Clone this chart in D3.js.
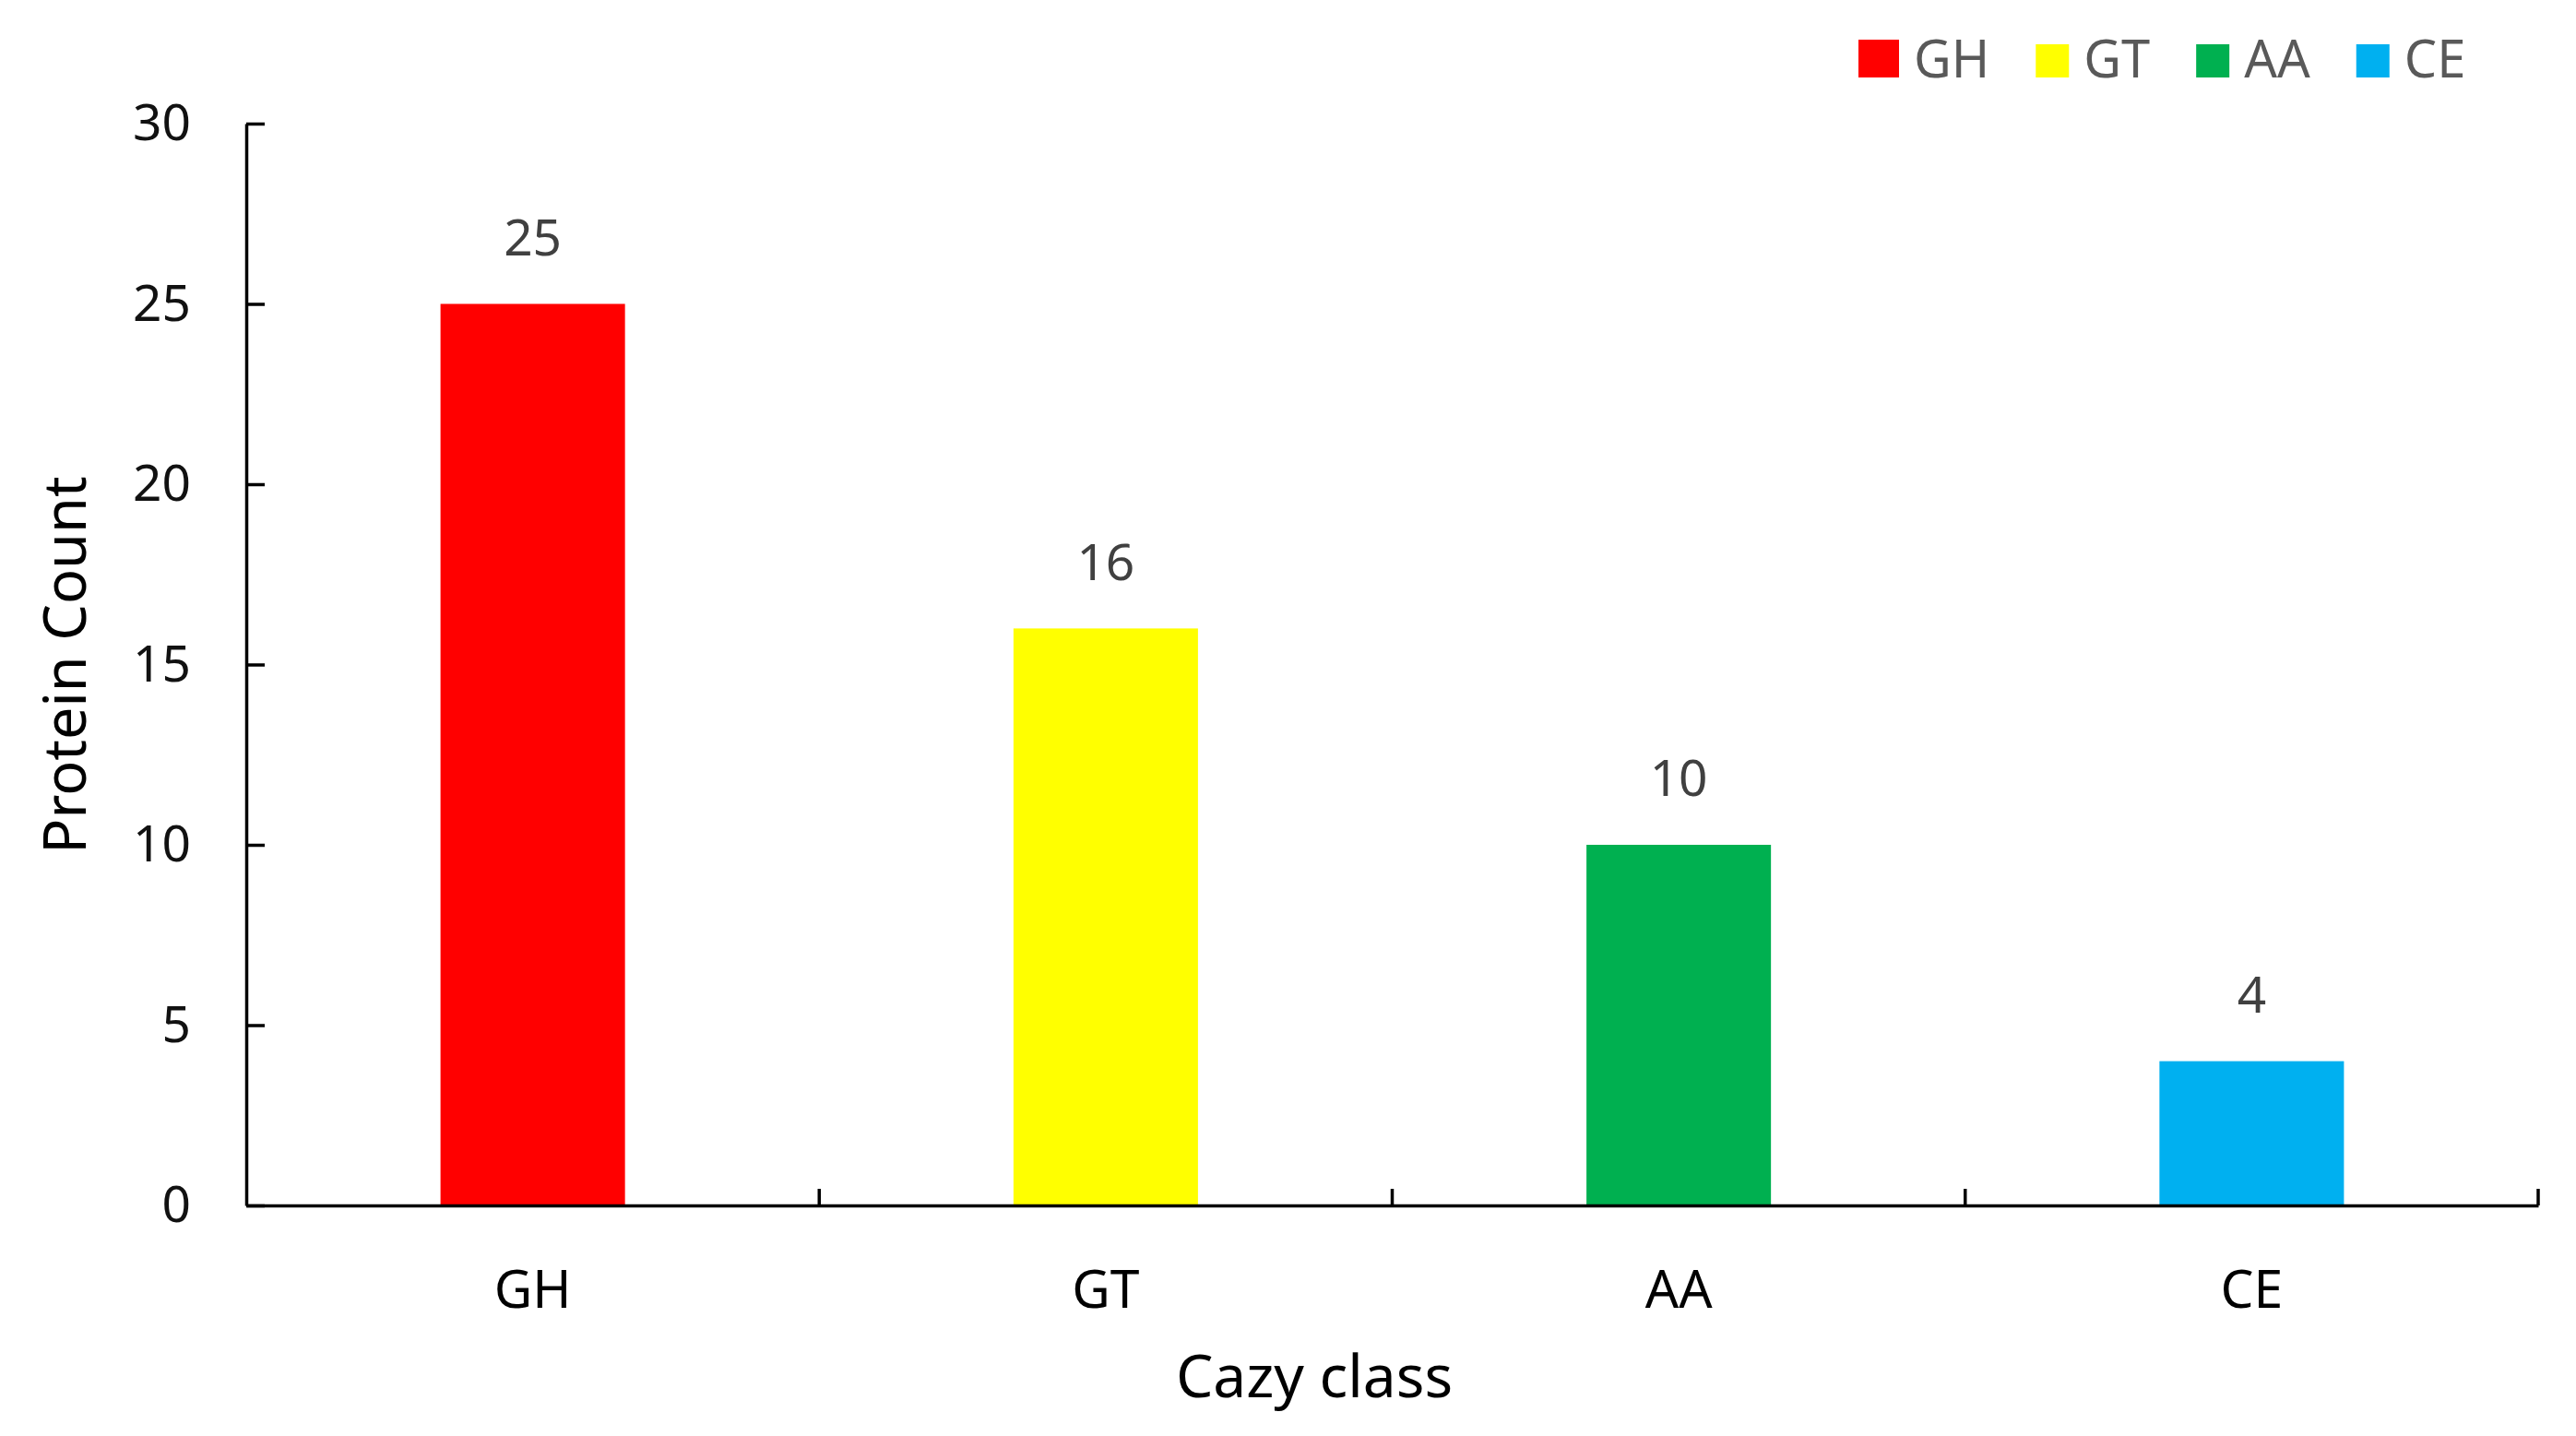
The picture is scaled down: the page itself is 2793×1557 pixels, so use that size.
<!DOCTYPE html>
<html>
<head>
<meta charset="utf-8">
<script src="https://cdn.jsdelivr.net/npm/d3@7"></script>
<style>
  html, body { margin: 0; padding: 0; background: #fff; }
  svg text { font-family: "Noto Sans", "Open Sans", sans-serif; }
</style>
</head>
<body>
<div id="chart"></div>
<script>
var categories = ['GH', 'GT', 'AA', 'CE']
var counts = [25, 16, 10, 4]
var colors = ['#FF0000', '#FFFF00', '#00B050', '#00B0F0']
var yTicks = [0, 5, 10, 15, 20, 25, 30]

var width = 2793, height = 1557
var margin = {left: 267, right: 41, top: 134, bottom: 250}
var iw = width - margin.left - margin.right
var ih = height - margin.top - margin.bottom

var svg = d3.select('#chart').append('svg')
  .attr('width', width)
  .attr('height', height)

var g = svg.append('g')
  .attr('transform', `translate(${margin.left},${margin.top})`)

var x = d3.scaleBand()
  .domain(categories)
  .range([0, iw])
  .paddingInner(0.678)
  .paddingOuter(0.339)

var y = d3.scaleLinear()
  .domain([0, 30])
  .range([ih, 0])

var data = categories.map((c, i) => ({cat: c, value: counts[i], color: colors[i]}))

// bars
g.selectAll('rect.bar').data(data).join('rect')
  .attr('class', 'bar')
  .attr('x', d => x(d.cat))
  .attr('width', x.bandwidth())
  .attr('y', d => y(d.value))
  .attr('height', d => y(0) - y(d.value))
  .attr('fill', d => d.color)

// value labels
g.selectAll('text.val').data(data).join('text')
  .attr('class', 'val')
  .attr('x', d => x(d.cat) + x.bandwidth() / 2)
  .attr('y', d => y(d.value) - 72)
  .attr('dy', '.35em')
  .attr('text-anchor', 'middle')
  .attr('font-size', 55)
  .attr('fill', '#404040')
  .text(d => d.value)

// y axis
var yAxis = g.append('g')
  .call(d3.axisLeft(y).tickValues(yTicks).tickSizeInner(-20).tickSizeOuter(0).tickPadding(60))
yAxis.select('.domain').attr('stroke', '#000').attr('stroke-width', 3.5)
yAxis.selectAll('.tick line').attr('stroke', '#000').attr('stroke-width', 3.5)
yAxis.selectAll('.tick text')
  .attr('font-size', 55)
  .attr('fill', '#111')
  .attr('font-family', '"Noto Sans", sans-serif')

// x axis, labels at band centres
var xAxis = g.append('g')
  .attr('transform', `translate(0,${ih})`)
  .call(d3.axisBottom(x).tickSize(0).tickPadding(71))
xAxis.select('.domain').attr('stroke', '#000').attr('stroke-width', 3.5)
xAxis.selectAll('.tick text')
  .attr('font-size', 57)
  .attr('fill', '#000')
  .attr('font-family', '"Noto Sans", sans-serif')

// category boundary ticks pointing up
xAxis.selectAll('line.bound').data(d3.range(1, categories.length + 1)).join('line')
  .attr('class', 'bound')
  .attr('x1', i => x.range()[0] + i * x.step())
  .attr('x2', i => x.range()[0] + i * x.step())
  .attr('y1', 0)
  .attr('y2', -18)
  .attr('stroke', '#000')
  .attr('stroke-width', 3.5)

// axis titles
svg.append('text')
  .attr('x', 1425)
  .attr('y', 1493)
  .attr('dy', '.35em')
  .attr('text-anchor', 'middle')
  .attr('font-size', 64)
  .attr('fill', '#000')
  .text('Cazy class')

svg.append('text')
  .attr('transform', 'translate(71,721) rotate(-90)')
  .attr('dy', '.35em')
  .attr('text-anchor', 'middle')
  .attr('font-size', 63)
  .attr('fill', '#000')
  .text('Protein Count')

// legend, laid out left to right from its first swatch
var legend = svg.append('g')
var items = legend.selectAll('g').data(data).join('g')
items.append('rect')
  .attr('width', (d, i) => i ? 36 : 44)
  .attr('height', (d, i) => i ? 36 : 41)
  .attr('y', (d, i) => i ? 48 : 43)
  .attr('fill', d => d.color)
items.append('text')
  .attr('y', 64)
  .attr('dy', '.35em')
  .attr('font-size', 56)
  .attr('fill', '#595959')
  .text(d => d.cat)

var cursor = 2015
items.each(function(d, i) {
  var sel = d3.select(this)
  var sw = +sel.select('rect').attr('width')
  sel.select('text').attr('x', sw + 16)
  sel.attr('transform', `translate(${cursor},0)`)
  cursor += sw + 16 + sel.select('text').node().getComputedTextLength() + 50
})
</script>
</body>
</html>
